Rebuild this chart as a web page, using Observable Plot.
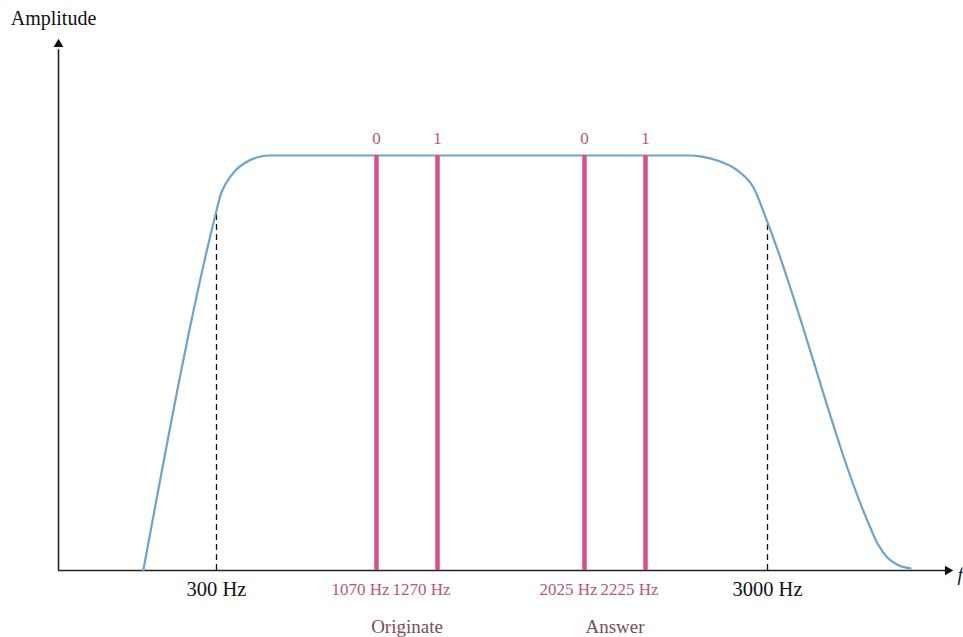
<!DOCTYPE html>
<html>
<head>
<meta charset="utf-8">
<script src="https://cdn.jsdelivr.net/npm/d3@7"></script>
<script src="https://cdn.jsdelivr.net/npm/@observablehq/plot@0.6"></script>
<style>
  html, body { margin: 0; padding: 0; background: #fff; }
  #chart svg { display: block; }
</style>
</head>
<body>
<div id="chart"></div>
<script>
// Passband of the telephone line (schematic frequency in Hz, relative amplitude)
const curveHz  = [161, 300, 319, 348, 391, 440, 493, 550, 2511, 2574, 2682, 2809, 2911, 3000, 3546, 3601, 3656, 3710, 3781];
const curveAmp = [0, 0.867, 0.904, 0.935, 0.964, 0.983, 0.995, 1, 1, 0.998, 0.988, 0.964, 0.923, 0.839, 0.120, 0.065, 0.031, 0.014, 0.005];

// FSK tones
const toneHz     = [1070, 1270, 2025, 2225];
const toneBits   = ["0", "1", "0", "1"];
const toneLabels = ["1070 Hz", "1270 Hz", "2025 Hz", "2225 Hz"];
const toneAmp    = 1;

// Band edges
const edgeHz     = [300, 3000];
const edgeAmp    = [0.867, 0.839];
const edgeLabels = ["300 Hz", "3000 Hz"];

// Group labels
const groupNames = ["Originate", "Answer"];
const groupHz    = [1170, 2125];

const curve = curveHz.map((f, i) => ({f, a: curveAmp[i]}));
const tones = toneHz.map((f, i) => ({f, bit: toneBits[i], label: toneLabels[i]}));
const edges = edgeHz.map((f, i) => ({f, a: edgeAmp[i], label: edgeLabels[i]}));
const groups = groupNames.map((n, i) => ({f: groupHz[i], name: n}));

const pink = "#d6508a";
const pinkText = "#b8567c";
const blue = "#6ea3cc";
const font = "'Liberation Serif', 'DejaVu Serif', serif";

const chart = Plot.plot({
  width: 963,
  height: 637,
  margin: 0,
  style: {background: "#fff", fontFamily: font},
  x: {type: "linear", domain: [0, 300, 1070, 1270, 2025, 2225, 3000, 4000],
      range: [58, 216, 376, 437, 584, 645, 767, 950], axis: null},
  y: {type: "linear", domain: [0, 1], range: [570, 155], axis: null},
  marks: [
    // axes
    Plot.ruleY([0], {x1: 0, x2: 3975, stroke: "#222", strokeWidth: 1.6}),
    Plot.ruleX([0], {y1: 0, y2: 1.255, stroke: "#222", strokeWidth: 1.6}),
    Plot.dot([{f: 3985, a: 0}], {x: "f", y: "a", symbol: "triangle", r: 3.6, fill: "#111", stroke: null, rotate: 90}),
    Plot.dot([{f: 0, a: 1.268}], {x: "f", y: "a", symbol: "triangle", r: 3.6, fill: "#111", stroke: null}),
    // dashed band edges
    Plot.ruleX(edges, {x: "f", y1: 0, y2: "a", stroke: "#111", strokeWidth: 1.3, strokeDasharray: "6,4"}),
    // passband curve
    Plot.line(curve, {x: "f", y: "a", stroke: blue, strokeWidth: 2.2, curve: "monotone-x"}),
    // tones
    Plot.ruleX(tones, {x: "f", y1: 0, y2: toneAmp, stroke: pink, strokeWidth: 4.5}),
    Plot.text(tones, {x: "f", y: toneAmp, text: "bit", dy: -17, fill: pinkText, fontSize: 17, fontFamily: font}),
    Plot.text(tones, {x: "f", y: 0, text: "label", dx: -16, dy: 19, fill: pinkText, fontSize: 17, fontFamily: font}),
    Plot.text(edges, {x: "f", y: 0, text: "label", dy: 19, fill: "#111", fontSize: 20.5, fontFamily: font}),
    Plot.text(groups, {x: "f", y: 0, text: "name", dy: 56, fill: "#7d4a60", fontSize: 19, fontFamily: font}),
    // axis titles
    Plot.text(["Amplitude"], {x: 0, y: 1.33, dx: -5, text: d => d, fill: "#111", fontSize: 20, fontFamily: font}),
    Plot.text(["f"], {x: 4000, y: 0, dx: 7, dy: 4, text: d => d, textAnchor: "start", fill: "#111", fontSize: 19, fontStyle: "italic", fontFamily: font})
  ]
});

document.getElementById("chart").appendChild(chart);
</script>
</body>
</html>
